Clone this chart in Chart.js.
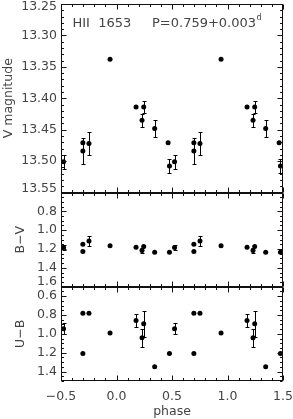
<!DOCTYPE html>
<html>
<head>
<meta charset="utf-8">
<script src="https://cdn.jsdelivr.net/npm/chart.js@4.4.0/dist/chart.umd.min.js"></script>
<style>
    html, body { margin: 0; padding: 0; background: #fff; }
    #wrap { width: 293px; height: 419px; position: relative; }
</style>
</head>
<body>
<div id="wrap"><canvas id="curva"></canvas></div>
<script>
// fases base (0..1) e medidas de HII 1653
var phases = [0.176, 0.230, 0.245, 0.344, 0.465, 0.477, 0.523, 0.697, 0.697, 0.752, 0.942];
var vMag   = [13.414, 13.435, 13.414, 13.448, 13.471, 13.508, 13.501, 13.484, 13.471, 13.472, 13.338];
var vErr   = [0.002, 0.010, 0.009, 0.013, 0.002, 0.011, 0.011, 0.021, 0.003, 0.018, 0.002];
var bv     = [1.180, 1.215, 1.173, 1.235, null, 1.235, 1.183, 1.149, 1.225, 1.114, 1.166];
var bvErr  = [0.01, 0.03, 0.01, 0.01, 0, 0.01, 0.03, 0.02, 0.01, 0.054, 0.01];
var ub     = [0.858, 1.040, 0.893, 1.349, null, 1.209, 0.945, 0.781, 1.209, 0.781, 0.991];
var ubErr  = [0.07, 0.095, 0.14, 0.02, 0, 0.02, 0.06, 0.01, 0.01, 0.01, 0.01];

// ticks
var phaseTicks = [-0.5, 0.0, 0.5, 1.0, 1.5];
var vTicks  = [13.25, 13.30, 13.35, 13.40, 13.45, 13.50, 13.55];
var bvTicks = [0.8, 1.0, 1.2, 1.4, 1.6];
var ubTicks = [0.6, 0.8, 1.0, 1.2, 1.4];

var FONT = "'DejaVu Sans', sans-serif";
var INK = '#444';
var FS = 12.5;

function fold(vals, errs) { // repete a curva de -0.5 ate 1.5
    var pts = [];
    for (var k = -1; k <= 1; k++) {
        for (var i = 0; i < phases.length; i++) {
            var p = phases[i] + k;
            if (vals[i] === null || p < -0.5 || p > 1.5) continue;
            pts.push({x: p, y: vals[i], e: errs[i]});
        }
    }
    return pts;
}

function minus(s) { return s.replace('-', '\u2212'); }

function noPad(s) { s.paddingTop = 0; s.paddingBottom = 0; s.paddingLeft = 0; s.paddingRight = 0; }

var errorBars = {
    id: 'errorBars',
    afterDatasetsDraw: function (chart) {
        var ctx = chart.ctx;
        ctx.save();
        ctx.strokeStyle = '#000';
        ctx.lineWidth = 1;
        chart.data.datasets.forEach(function (ds, i) {
            var meta = chart.getDatasetMeta(i);
            var ys = chart.scales[ds.yAxisID];
            ds.data.forEach(function (d, j) {
                var px = Math.round(meta.data[j].x) + 0.5;
                var y1 = Math.round(ys.getPixelForValue(d.y - d.e)) + 0.5;
                var y2 = Math.round(ys.getPixelForValue(d.y + d.e)) + 0.5;
                if (Math.abs(y2 - y1) < 5) return;
                ctx.beginPath();
                ctx.moveTo(px, y1); ctx.lineTo(px, y2);
                ctx.moveTo(px - 2, y1); ctx.lineTo(px + 2, y1);
                ctx.moveTo(px - 2, y2); ctx.lineTo(px + 2, y2);
                ctx.stroke();
            });
        });
        ctx.restore();
    }
};

var frame = {
    id: 'frame',
    afterDraw: function (chart) {
        var ctx = chart.ctx, a = chart.chartArea, xs = chart.scales.x;
        var L = Math.round(a.left) + 0.5, R = Math.round(a.right) - 0.5;
        var steps = {yV: [0.01, 0.05, 13.25, 13.55], yBV: [0.05, 0.2, 0.6, 1.6], yUB: [0.05, 0.2, 0.5, 1.5]};
        ctx.save();
        ctx.strokeStyle = '#111';
        ctx.lineWidth = 1;
        ['yV', 'yBV', 'yUB'].forEach(function (id) {
            var s = chart.scales[id], st = steps[id];
            var T = Math.round(s.top) + 0.5, B = Math.round(s.bottom) - 0.5;
            ctx.strokeRect(L, T, R - L, B - T);
            ctx.beginPath();
            var n = Math.round((st[3] - st[2]) / st[0]);
            for (var i = 0; i <= n; i++) {
                var v = st[2] + i * st[0];
                var major = Math.abs(v / st[1] - Math.round(v / st[1])) < 1e-6;
                var len = major ? 5 : 2.5;
                var py = Math.round(s.getPixelForValue(v)) + 0.5;
                ctx.moveTo(L, py); ctx.lineTo(L + len, py);
                ctx.moveTo(R, py); ctx.lineTo(R - len, py);
            }
            for (var j = 0; j <= 20; j++) {
                var xv = -0.5 + j * 0.1;
                var xl = (j % 5 === 0) ? 5 : 2.5;
                var px = Math.round(xs.getPixelForValue(xv)) + 0.5;
                ctx.moveTo(px, T); ctx.lineTo(px, T + xl);
                ctx.moveTo(px, B); ctx.lineTo(px, B - xl);
            }
            ctx.stroke();
        });
        // rotulos dentro do painel V
        ctx.fillStyle = INK;
        ctx.textBaseline = 'alphabetic';
        ctx.font = '13px ' + FONT;
        ctx.fillText('HII  1653', a.left + 11.5, 27);
        ctx.fillText('P=0.759+0.003', a.left + 91, 27);
        var w = ctx.measureText('P=0.759+0.003').width;
        ctx.font = '8px ' + FONT;
        ctx.fillText('d', a.left + 91.5 + w, 20);
        ctx.restore();
    }
};

// shift = deslocamento vertical (px) do rotulo nas bordas dos paineis
function yAxis(ticks, lo, hi, dec, title, pad, weight, stackW, shift) {
    return {
        type: 'linear',
        position: 'left',
        stack: 'paineis',
        stackWeight: stackW,
        weight: weight,
        reverse: true,
        min: lo,
        max: hi,
        afterBuildTicks: function (s) { s.ticks = ticks.map(function (v) { return {value: v}; }); },
        afterFit: function (s) { s.width = 61; noPad(s); },
        grid: {display: false, drawTicks: false},
        border: {display: false},
        ticks: {
            color: INK, padding: 4, autoSkip: false,
            font: function (c) {
                var sh = c.tick ? shift[c.tick.value.toFixed(dec)] : 0;
                return {family: FONT, size: FS, lineHeight: sh ? Math.abs(sh) * 2 / FS : 1.2};
            },
            callback: function (v) {
                var t = v.toFixed(dec), sh = shift[t];
                if (!sh) return t;
                return sh < 0 ? [t, ''] : ['', t];
            }
        },
        title: {
            display: true, text: title, color: INK,
            font: {family: FONT, size: FS},
            padding: {top: pad, bottom: 0}
        }
    };
}

var ctx = document.getElementById('curva');
var myChart = new Chart(ctx, {
    type: 'scatter',
    data: {
        datasets: [
            {label: 'V', data: fold(vMag, vErr), yAxisID: 'yV'},
            {label: 'B-V', data: fold(bv, bvErr), yAxisID: 'yBV'},
            {label: 'U-B', data: fold(ub, ubErr), yAxisID: 'yUB'}
        ]
    },
    options: {
        responsive: true,
        maintainAspectRatio: false,
        animation: false,
        events: [],
        layout: {padding: {top: 1, right: 10, left: 0, bottom: 0}},
        elements: {
            point: {radius: 2.5, backgroundColor: '#000', borderWidth: 0}
        },
        plugins: {legend: {display: false}, tooltip: {enabled: false}},
        scales: {
            x: {
                type: 'linear',
                min: -0.5, max: 1.5,
                afterBuildTicks: function (s) { s.ticks = phaseTicks.map(function (v) { return {value: v}; }); },
                afterFit: function (s) { s.height = 38; noPad(s); },
                grid: {display: false, drawTicks: false},
                border: {display: false},
                ticks: {
                    color: INK, padding: 8, maxRotation: 0, autoSkip: false,
                    font: {family: FONT, size: FS},
                    callback: function (v) { return minus(v.toFixed(1)); }
                },
                title: {
                    display: true, text: 'phase', color: INK,
                    font: {family: FONT, size: FS},
                    padding: {top: 0, bottom: 0}
                }
            },
            yV: yAxis(vTicks, 13.25, 13.55, 2, 'V magnitude', 1, 3, 2, {'13.25': 3, '13.55': -4}),
            yBV: yAxis(bvTicks, 0.6, 1.6, 1, 'B\u2212V', 13, 2, 1, {'1.6': -5}),
            yUB: yAxis(ubTicks, 0.5, 1.5, 1, 'U\u2212B', 13, 1, 1, {})
        }
    },
    plugins: [errorBars, frame]
});
</script>
</body>
</html>
